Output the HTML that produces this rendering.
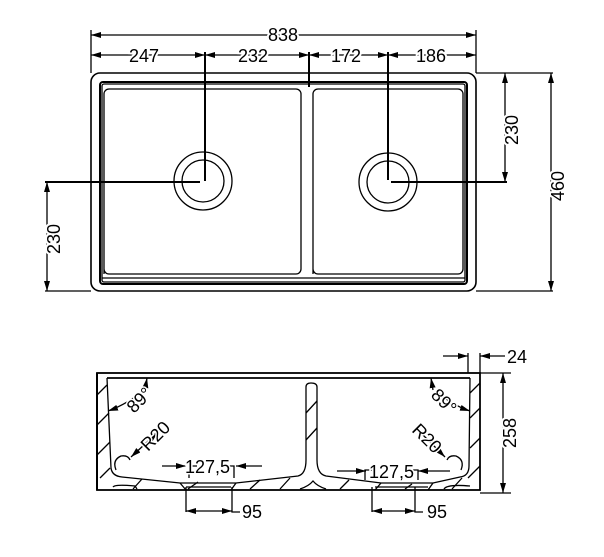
<!DOCTYPE html>
<html><head><meta charset="utf-8"><style>
html,body{margin:0;padding:0;background:#fff;}
svg{display:block}
text{font-family:"Liberation Sans",sans-serif;font-size:18px;fill:#000}
</style></head><body>
<svg width="604" height="557" viewBox="0 0 604 557" xmlns="http://www.w3.org/2000/svg">
<defs>
<marker id="a" viewBox="0 0 10 6" refX="10" refY="3" markerWidth="10" markerHeight="6" orient="auto-start-reverse" markerUnits="userSpaceOnUse"><path d="M0,0 L10,3 L0,6 z" fill="#000"/></marker>
</defs>
<g fill="none" stroke="#000" stroke-width="1.3">
<rect x="91" y="73" width="385" height="218" rx="9" stroke-width="1.6"/>
<rect x="100" y="82" width="367" height="202" rx="3" stroke-width="2"/>
<rect x="102" y="84" width="363" height="198" rx="2"/>
<path d="M104,274 V94 a5,5 0 0 1 5,-5 H296 a5,5 0 0 1 5,5 V269 a5,5 0 0 1 -5,5 H109 a5,5 0 0 1 -5,-5"/>
<path d="M313,274 V94 a5,5 0 0 1 5,-5 H458 a5,5 0 0 1 5,5 V269 a5,5 0 0 1 -5,5 H318 a5,5 0 0 1 -5,-5"/>
<line x1="102" y1="278" x2="465" y2="278"/>
<circle cx="203" cy="181" r="29"/><circle cx="203" cy="181" r="21"/>
<circle cx="388" cy="182" r="29"/><circle cx="388" cy="182" r="21"/>
<line x1="91" y1="30" x2="91" y2="73"/><line x1="476" y1="30" x2="476" y2="73"/>
<line x1="91" y1="35" x2="476" y2="35" marker-start="url(#a)" marker-end="url(#a)"/>
<line x1="91" y1="55" x2="205" y2="55" marker-start="url(#a)" marker-end="url(#a)"/>
<line x1="205" y1="55" x2="309" y2="55" marker-start="url(#a)" marker-end="url(#a)"/>
<line x1="309" y1="55" x2="388" y2="55" marker-start="url(#a)" marker-end="url(#a)"/>
<line x1="388" y1="55" x2="476" y2="55" marker-start="url(#a)" marker-end="url(#a)"/>
<line x1="205" y1="52" x2="205" y2="181" stroke-width="2"/>
<line x1="309" y1="52" x2="309" y2="87" stroke-width="2"/>
<line x1="388" y1="52" x2="388" y2="180" stroke-width="2"/>
<line x1="476" y1="73" x2="553" y2="73"/><line x1="476" y1="291" x2="553" y2="291"/>
<line x1="551" y1="73" x2="551" y2="291" marker-start="url(#a)" marker-end="url(#a)"/>
<line x1="505" y1="73" x2="505" y2="182" marker-start="url(#a)" marker-end="url(#a)"/>
<line x1="391" y1="182" x2="507" y2="182" stroke-width="2"/>
<line x1="45" y1="182" x2="200" y2="182" stroke-width="2"/>
<line x1="45" y1="291" x2="91" y2="291"/>
<line x1="47" y1="182" x2="47" y2="291" marker-start="url(#a)" marker-end="url(#a)"/>

<rect x="97" y="373" width="383" height="117" stroke-width="1.8"/>
<line x1="107" y1="378" x2="470" y2="378" stroke-width="1.8"/>
<line x1="97" y1="373" x2="97" y2="490" stroke-width="2"/>
<path d="M107,378 L111,468 Q112,476 122,477 L180,483 L236,483 L298,476 Q306,474 306,460 L306,387 Q306,383 311,383 Q317,383 317,387 L317,460 Q317,474 326,476 L381,483 L433,483 L460,477 Q469,476 469,466 L470,378"/>
<path d="M180,483 L186,490 M236,483 L231,490 M381,483 L375,490 M433,483 L428,490"/>
<line x1="186" y1="487" x2="231" y2="487"/><line x1="375" y1="487" x2="428" y2="487"/>
<path d="M300,489 Q309,486 313,481 Q317,486 326,489"/>
<path d="M113,487 Q115,484 135,486 L137,489 M444,489 Q447,484 470,486"/>
<path d="M97,395 L107,385 M97,425 L109,413 M97,455 L110,442 M100,478 L110,468 M133,489 L142,479 M188,489 L198,482 M250,489 L260,480 M280,489 L290,478 M306,413 L317,401 M306,440 L317,428 M340,489 L349,480 M405,489 L412,484 M452,489 L462,478 M470,418 L480,408 M470,448 L480,438 M468,478 L480,466 M470,393 L480,383"/>
<path d="M116,470 Q112,460 121,456 Q128,455 130,460"/>
<path d="M461,470 Q465,460 456,456 Q449,455 447,460"/>
<line x1="131" y1="457" x2="158" y2="432" marker-end="url(#a)" marker-start="url(#a)"/>
<line x1="445" y1="457" x2="420" y2="432" marker-start="url(#a)"/>
<path d="M108,411 Q125,405 142,392" marker-start="url(#a)"/>
<path d="M145,390 L147,378" marker-end="url(#a)"/>
<path d="M470,411 Q452,405 437,392" marker-start="url(#a)"/>
<path d="M433,390 L431,378" marker-end="url(#a)"/>
<line x1="162" y1="466" x2="186" y2="466" marker-end="url(#a)"/>
<line x1="236" y1="466" x2="262" y2="466" marker-start="url(#a)"/>
<path d="M189,478 V466 H197 M234,478 V466 H228"/>
<line x1="337" y1="471" x2="366" y2="471" marker-end="url(#a)"/>
<line x1="418" y1="471" x2="450" y2="471" marker-start="url(#a)"/>
<path d="M365,480 V470 H372 M418,480 V470 H413"/>
<path d="M186,487 V512 M232,487 V512 H240"/>
<line x1="186" y1="511" x2="232" y2="511" marker-start="url(#a)" marker-end="url(#a)"/>
<path d="M372,487 V512 M415,487 V512 H423"/>
<line x1="372" y1="511" x2="415" y2="511" marker-start="url(#a)" marker-end="url(#a)"/>
<line x1="468" y1="353" x2="468" y2="373"/><line x1="480" y1="353" x2="480" y2="373"/>
<line x1="443" y1="356" x2="468" y2="356" marker-end="url(#a)"/>
<line x1="505" y1="356" x2="480" y2="356" marker-end="url(#a)"/>
<line x1="480" y1="373" x2="511" y2="373"/><line x1="480" y1="493" x2="511" y2="493"/>
<line x1="503" y1="373" x2="503" y2="493" marker-start="url(#a)" marker-end="url(#a)"/>
</g>
<g>
<text x="268" y="41" style="paint-order:stroke" stroke="#fff" stroke-width="4">838</text>
<text x="129" y="62" stroke="#fff" stroke-width="4" style="paint-order:stroke">247</text>
<text x="238" y="62" stroke="#fff" stroke-width="4" style="paint-order:stroke">232</text>
<text x="331" y="62" stroke="#fff" stroke-width="4" style="paint-order:stroke">172</text>
<text x="416" y="62" stroke="#fff" stroke-width="4" style="paint-order:stroke">186</text>
<text transform="translate(518,145) rotate(-90)" stroke="#fff" stroke-width="4" style="paint-order:stroke">230</text>
<text transform="translate(564,201) rotate(-90)" stroke="#fff" stroke-width="4" style="paint-order:stroke">460</text>
<text transform="translate(60,254) rotate(-90)" stroke="#fff" stroke-width="4" style="paint-order:stroke">230</text>
<text x="507" y="363">24</text>
<text transform="translate(516,448) rotate(-90)" stroke="#fff" stroke-width="4" style="paint-order:stroke">258</text>
<text x="185" y="473" stroke="#fff" stroke-width="3" style="paint-order:stroke">127,5</text>
<text x="369" y="478" stroke="#fff" stroke-width="3" style="paint-order:stroke">127,5</text>
<text x="242" y="518">95</text>
<text x="427" y="518">95</text>
<text transform="translate(134,414) rotate(-45)" stroke="#fff" stroke-width="3" style="paint-order:stroke">89°</text>
<text transform="translate(430,396) rotate(45)" stroke="#fff" stroke-width="3" style="paint-order:stroke">89°</text>
<text transform="translate(148,452) rotate(-45)" stroke="#fff" stroke-width="3" style="paint-order:stroke">R20</text>
<text transform="translate(411,431) rotate(45)" stroke="#fff" stroke-width="3" style="paint-order:stroke">R20</text>
</g>
</svg>
</body></html>
